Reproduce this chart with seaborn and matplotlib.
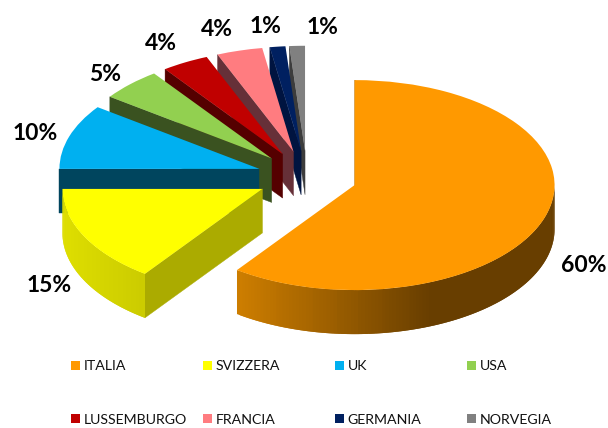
#! /usr/bin/env python
import numpy as np
import seaborn as sns
import matplotlib.pyplot as plt

countries = ['ITALIA', 'SVIZZERA', 'UK', 'USA', 'LUSSEMBURGO', 'FRANCIA', 'GERMANIA', 'NORVEGIA']
shares = [60, 15, 10, 5, 3.8, 3.7, 1.25, 1.25]

top_colors = ['#FF9900', '#FFFF00', '#00B0F0', '#92D050', '#C00000', '#FF7C80', '#002060', '#808080']
face_colors = ['#6B4000', '#ABAB00', '#00455E', '#3A5220', '#550000', '#663038', '#001440', '#3C3C3C']
rim_light = ['#CC7D00', '#DEDE00', '#00455E', '#3A5220', '#550000', '#663038', '#001440', '#3C3C3C']
rim_dark = ['#683E00', '#CBCB00', '#00455E', '#3A5220', '#550000', '#663038', '#001440', '#3C3C3C']
rim_reach = [0.6, 1, 1, 1, 1, 1, 1, 1]

# nudges of the percent labels away from the pie's own spot, in pixels
label_dx = [10, -8, -6, -4, -10, -14, -9, 26]
label_dy = [43, 42, 2, 1, -5, -6, -5, -3]

X_PX = 200.0   # pixels per data unit, squashes the pie to an ellipse
Y_PX = 105.0
DEPTH = 44 / Y_PX
CENTER_X = 307
CENTER_Y = 177

sns.set_theme(style='white')
plt.rcParams['font.family'] = ['Lato', 'DejaVu Sans']

fig = plt.figure(figsize=(6.08, 4.28), dpi=100)
ax = fig.add_axes([0, 0, 1, 1])

wedges, texts, autotexts = ax.pie(shares, explode=[0.25] * len(shares), colors=top_colors,
                                  startangle=90, counterclock=False, autopct='%.0f%%',
                                  pctdistance=1.15, wedgeprops={'linewidth': 0},
                                  textprops={'fontsize': 16.5, 'fontweight': 'bold', 'color': 'black'})
ax.set_aspect('auto')
ax.set_xlim(-CENTER_X / X_PX, (608 - CENTER_X) / X_PX)
ax.set_ylim((CENTER_Y - 428) / Y_PX, CENTER_Y / Y_PX)

n = len(wedges)
for i, w in enumerate(wedges):
    order = 2 * (n - i) + 2
    w.set_zorder(order + 1)
    cx, cy = w.center

    # flat cut face on the leading edge
    a = np.deg2rad(w.theta2)
    ex, ey = cx + w.r * np.cos(a), cy + w.r * np.sin(a)
    ax.fill([cx, ex, ex, cx], [cy, ey, ey - DEPTH, cy - DEPTH], color=face_colors[i],
            linewidth=0.3, zorder=order)

    # curved outer wall, only the part facing the viewer
    lo, hi = max(w.theta1, -180), min(w.theta2, 0)
    if hi <= lo:
        continue
    steps = np.deg2rad(np.arange(lo, hi + 1, 1.0))
    xs = cx + w.r * np.cos(steps)
    ys = cy + w.r * np.sin(steps)
    pal = sns.blend_palette([rim_light[i], rim_dark[i]], 64)
    for j in range(len(steps) - 1):
        t = (xs[j] - xs.min()) / (xs.max() - xs.min()) / rim_reach[i]
        col = pal[int(min(t, 1) * 63)]
        # each strip runs under the next one, otherwise the seams show
        k = min(j + 3, len(steps))
        ax.fill(np.r_[xs[j:k], xs[j:k][::-1]],
                np.r_[ys[j:k], ys[j:k][::-1] - DEPTH],
                color=col, linewidth=0, zorder=order)

for t, dx, dy in zip(autotexts, label_dx, label_dy):
    x, y = t.get_position()
    t.set_position((x + dx / X_PX, y - dy / Y_PX))
    t.set_zorder(40)

# one legend per column so the columns stay evenly spaced
for col in range(4):
    leg = ax.legend([wedges[col], wedges[col + 4]], [countries[col], countries[col + 4]],
                    loc='upper left', bbox_to_anchor=((71 + 132 * col) / 608, 1 - 360 / 428),
                    frameon=False, borderpad=0, borderaxespad=0, fontsize=10.2,
                    handlelength=0.6, handleheight=0.6, handletextpad=0.3, labelspacing=2.95)
    for txt in leg.get_texts():
        txt.set_color('#111111')
    leg.set_zorder(50)
    ax.add_artist(leg)
    ax.legend_ = None

fig.savefig('out.png', dpi=100)
plt.close()
